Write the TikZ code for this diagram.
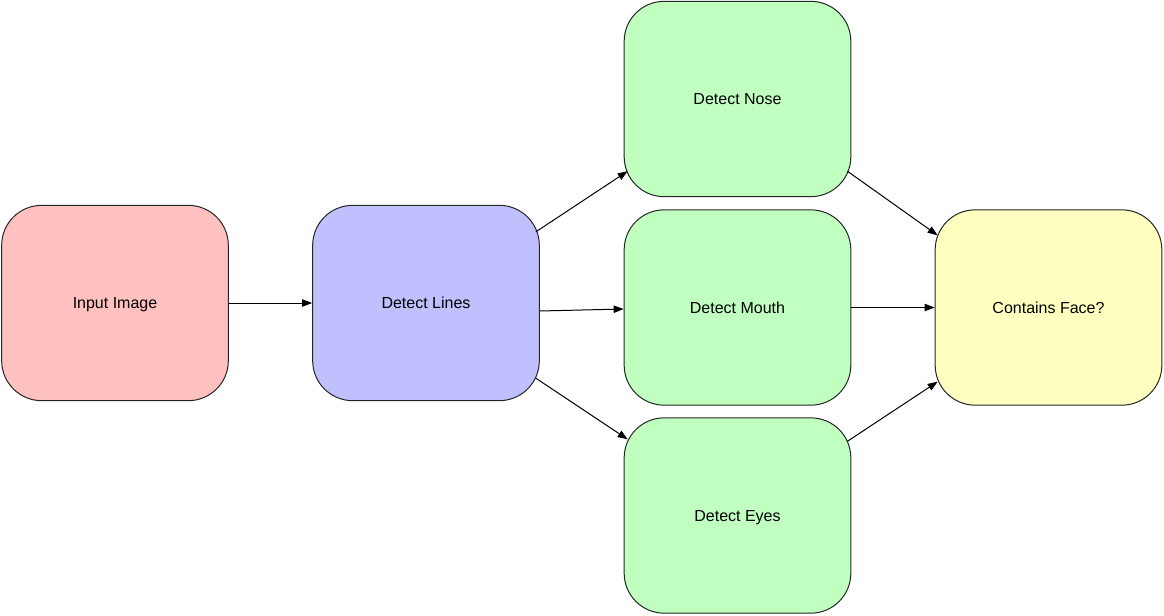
\documentclass[tikz,border=0pt]{standalone}
\usepackage{fontspec}
\setmainfont{Liberation Sans}
\usetikzlibrary{arrows.meta}
\definecolor{cpink}{HTML}{FFC0C0}
\definecolor{cblue}{HTML}{C0C0FF}
\definecolor{cgreen}{HTML}{C0FFC0}
\definecolor{cyellow}{HTML}{FFFFC0}
\tikzset{
  stepbox/.style={draw=black!85, line width=0.75pt, rounded corners=30pt,
    minimum width=170pt, minimum height=146.5pt, inner sep=0pt,
    text height=11pt, text depth=2.4pt,
    font=\fontsize{12pt}{14pt}\selectfont},
  conn/.style={draw=black, line width=0.75pt, -{Triangle[length=7.5pt,width=5.5pt]}}
}
\begin{document}
\begin{tikzpicture}[x=0.75pt,y=-0.75pt]
\useasboundingbox (0,0) rectangle (1164,615);
\node[stepbox, fill=cpink] (input) at (115,303) {Input Image};
\node[stepbox, fill=cblue] (lines) at (426,303) {Detect Lines};
\node[stepbox, fill=cgreen] (nose) at (737.5,99) {Detect Nose};
\node[stepbox, fill=cgreen] (mouth) at (737.5,307.5) {Detect Mouth};
\node[stepbox, fill=cgreen] (eyes) at (737.5,515.5) {Detect Eyes};
\node[stepbox, fill=cyellow] (face) at (1048.5,307.5) {Contains Face?};
\draw[conn] (input.east) -- (lines.west);
\draw[conn] ([shift={(-4,27)}]lines.north east) -- ([shift={(4,-26)}]nose.south west);
\draw[conn] ([shift={(0,8)}]lines.east) -- ([shift={(0,1.5)}]mouth.west);
\draw[conn] ([shift={(-4,-23)}]lines.south east) -- ([shift={(4,22)}]eyes.north west);
\draw[conn] ([shift={(-4,-26)}]nose.south east) -- ([shift={(3,26)}]face.north west);
\draw[conn] (mouth.east) -- (face.west);
\draw[conn] ([shift={(-4,24)}]eyes.north east) -- ([shift={(3,-24)}]face.south west);
\end{tikzpicture}
\end{document}
